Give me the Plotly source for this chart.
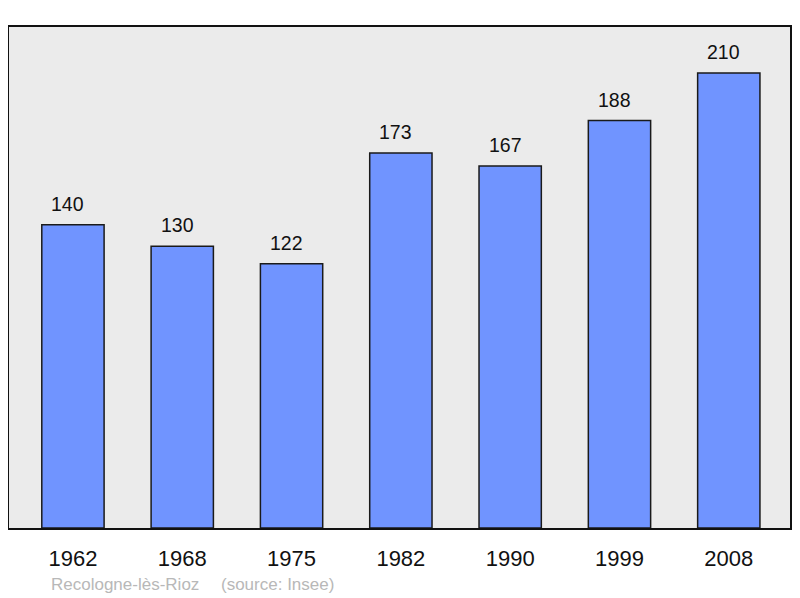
import plotly.graph_objects as go

years = ["1962", "1968", "1975", "1982", "1990", "1999", "2008"]
population = [140, 130, 122, 173, 167, 188, 210]
commune = "Recologne-lès-Rioz"
source = "(source: Insee)"

FONT = "Liberation Sans, Arial"

fig = go.Figure()
fig.add_trace(go.Bar(
    x=list(range(len(years))), y=population, width=0.57,
    marker=dict(color="#7094ff", line=dict(color="#1a1a1a", width=1.5)),
    hoverinfo="skip",
))

for i, v in enumerate(population):
    fig.add_annotation(x=i, y=v, text=str(v), showarrow=False, yanchor="middle",
                       yshift=21, xshift=-5, font=dict(family=FONT, size=19.5, color="#111"))

plot_h = 501
fig.add_annotation(xref="paper", yref="paper", x=(49 - 9) / 781, y=-(584 - 528) / plot_h,
                   xanchor="left", yanchor="middle", showarrow=False, text=commune,
                   font=dict(family=FONT, size=17, color="#b8b8b8"))
fig.add_annotation(xref="paper", yref="paper", x=(219 - 9) / 781, y=-(584 - 528) / plot_h,
                   xanchor="left", yanchor="middle", showarrow=False, text=source,
                   font=dict(family=FONT, size=17, color="#b8b8b8"))

fig.update_layout(
    width=792, height=590,
    margin=dict(l=1, r=10, t=19, b=70),
    paper_bgcolor="white", plot_bgcolor="#ebebeb",
    showlegend=False,
    xaxis=dict(range=[-0.585, 6.56], tickmode="array", tickvals=list(range(len(years))),
               ticktext=years, showgrid=False, zeroline=False, ticks="",
               showline=True, linecolor="#111", linewidth=2, mirror=True,
               ticklabelstandoff=10,
               tickfont=dict(family=FONT, size=22, color="#111")),
    yaxis=dict(range=[0, 231.2], showgrid=False, zeroline=False, showticklabels=False,
               ticks="", showline=True, linecolor="#111", linewidth=2, mirror=True),
)

fig.write_html("out.html")
